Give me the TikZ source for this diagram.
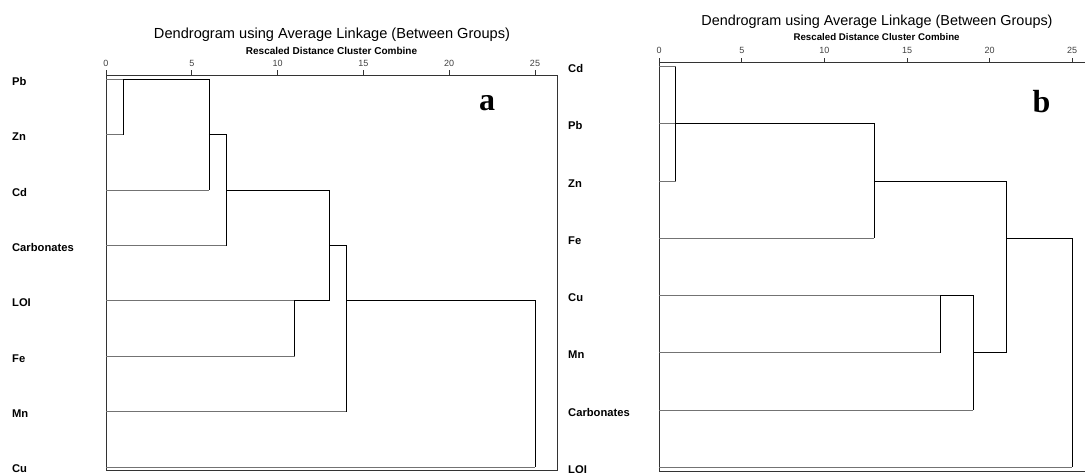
\documentclass[tikz,border=0pt]{standalone}
\usepackage{fontspec}
\setmainfont{Liberation Sans}
\newfontfamily\letterfont{Liberation Serif}
\tikzset{
  leaf/.style={black!55, line width=0.9pt},
  link/.style={black, line width=0.9pt},
  frame/.style={black!80, line width=0.8pt},
  varlab/.style={anchor=west, inner sep=0pt, yshift=-2pt, font=\fontsize{11.2}{12}\selectfont\bfseries},
  ticklab/.style={inner sep=0pt, black!75, font=\fontsize{9}{10}\selectfont},
  panelab/.style={anchor=base, inner sep=0pt, font=\letterfont\bfseries\fontsize{32}{34}\selectfont}
}

\begin{document}
\begin{tikzpicture}[x=1pt, y=-1pt]
    \useasboundingbox (0,0) rectangle (1085,472);
    \clip (0,0) rectangle (1085,472);
    % panel a
    \node[font=\fontsize{14.6}{16}\selectfont] (titleA) at (332,35) {Dendrogram using Average Linkage (Between Groups)};
    \node[font=\fontsize{10}{11}\selectfont\bfseries] (subA) at (331.5,51) {Rescaled Distance Cluster Combine};
    \node[panelab] (tagA) at (487,110) {a};
    \begin{scope}[shift={(106,79.3)}, x=17.16pt, y=-55.4pt]
    \draw[frame] (0,-0.078) rectangle (26.32,7.06);
    \foreach \t in {0,5,...,25}
        \draw[frame] (\t,-0.078) -- ++(0,5pt) node[above=3pt, ticklab] (tickA\t) {\t};
    \foreach \lab/\d [count=\r from 0] in {Pb/1, Zn/1, Cd/6, Carbonates/7, LOI/11, Fe/11, Mn/14, Cu/25} {
        \node[varlab] (varA\r) at (-5.48,\r) {\lab};
        \draw[leaf] (0,\r) -- (\d,\r);
    }
    \draw[link] (1,1) -- (1,0) -- (6,0) -- (6,2);
    \draw[link] (6,1) -- (7,1) -- (7,3);
    \draw[link] (7,2) -- (13,2) -- (13,4);
    \draw[link] (11,5) -- (11,4) -- (13,4);
    \draw[link] (13,3) -- (14,3) -- (14,6);
    \draw[link] (14,4) -- (25,4) -- (25,7);
    \end{scope}
    % panel b
    \node[font=\fontsize{14.4}{16}\selectfont] (titleB) at (877,21.7) {Dendrogram using Average Linkage (Between Groups)};
    \node[font=\fontsize{9.7}{11}\selectfont\bfseries] (subB) at (876.6,37.3) {Rescaled Distance Cluster Combine};
    \node[panelab] (tagB) at (1041.5,112) {b};
    \begin{scope}[shift={(659.2,66.7)}, x=16.52pt, y=-57.23pt]
    \draw[frame] (0,-0.07) rectangle (26.6,7.065);
    \foreach \t in {0,5,...,25}
        \draw[frame] (\t,-0.07) -- ++(0,4.7pt) node[above=4pt, ticklab] (tickB\t) {\t};
    \foreach \lab/\d [count=\r from 0] in {Cd/1, Pb/13, Zn/1, Fe/13, Cu/17, Mn/17, Carbonates/19, LOI/25} {
        \node[varlab] (varB\r) at (-5.52,\r) {\lab};
        \draw[leaf] (0,\r) -- (\d,\r);
    }
    \draw[link] (1,0) -- (1,2);
    \draw[link] (1,1) -- (13,1) -- (13,3);
    \draw[link] (13,2) -- (21,2) -- (21,5);
    \draw[link] (17,5) -- (17,4) -- (19,4) -- (19,6);
    \draw[link] (19,5) -- (21,5);
    \draw[link] (21,3) -- (25,3) -- (25,7);
    \end{scope}
\end{tikzpicture}
\end{document}
